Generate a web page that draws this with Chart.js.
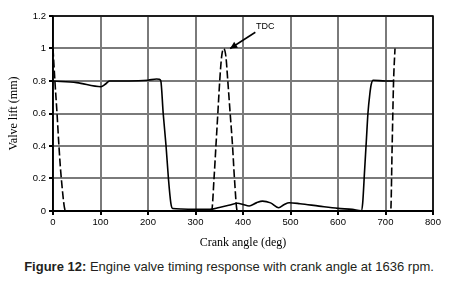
<!DOCTYPE html>
<html>
<head>
<meta charset="utf-8">
<script src="https://cdn.jsdelivr.net/npm/chart.js@4/dist/chart.umd.min.js"></script>
<style>
  html, body { margin: 0; padding: 0; background: #fff; }
  #wrap { position: relative; width: 458px; height: 283px; overflow: hidden; }
  #box { position: absolute; left: 0; top: 0; width: 458px; height: 256px; }
  #caption {
    position: absolute; left: 0; top: 259px; width: 458px; text-align: center;
    font-family: "Liberation Sans", Arial, sans-serif; font-size: 13px; color: #231f20;
    white-space: nowrap;
  }
</style>
</head>
<body>
<div id="wrap">
  <div id="box"><canvas id="chart"></canvas></div>
  <div id="caption"><b>Figure 12:</b> Engine valve timing response with crank angle at 1636 rpm.</div>
</div>
<script>
// valve lift vs crank angle
const solidAngle = [0, 50, 101, 110, 119, 160, 200, 218, 224, 227, 232, 238, 243, 248, 252, 270, 300, 330, 350, 370, 389, 400, 413, 428, 441, 458, 475, 487, 497, 520, 560, 600, 630, 649, 652, 656, 660, 663, 667, 670, 674, 700, 717];
const solidLift = [0.8, 0.79, 0.765, 0.78, 0.8, 0.8, 0.805, 0.812, 0.81, 0.8, 0.6, 0.4, 0.2, 0.05, 0.015, 0.012, 0.01, 0.01, 0.022, 0.035, 0.048, 0.04, 0.031, 0.05, 0.061, 0.05, 0.02, 0.04, 0.051, 0.045, 0.03, 0.016, 0.01, 0.002, 0.05, 0.25, 0.45, 0.6, 0.72, 0.78, 0.805, 0.8, 0.8];

const dashAngle = [0, 4, 8.5, 12.5, 17.5, 26.5, 334, 339, 343, 347, 351, 355, 359.5, 364, 368, 373, 378, 382, 388, 711, 714, 717, 720];
const dashLift = [1.0, 0.8, 0.6, 0.4, 0.2, 0, 0, 0.2, 0.4, 0.6, 0.8, 0.95, 1.0, 0.95, 0.8, 0.6, 0.4, 0.2, 0, 0, 0.4, 0.8, 1.0];

const xTicks = [0, 100, 200, 300, 400, 500, 600, 700, 800];
const yTicks = ['0', '0.2', '0.4', '0.6', '0.8', '1', '1.2'];

// TDC note, in data units
const tdcText = 'TDC';
const tdcTextAt = { x: 447, y: 1.135 };
const tdcArrowFrom = { x: 426, y: 1.1 };
const tdcArrowTo = { x: 373, y: 1.0 };

const pts = (xs, ys) => xs.map((x, i) => ({ x, y: ys[i] }));

// black frame around the plot + TDC arrow
const framePlugin = {
  id: 'frame',
  beforeDatasetsDraw(chart) {
    const { ctx, chartArea: a } = chart;
    ctx.save();
    ctx.strokeStyle = '#000';
    ctx.lineWidth = 1.5;
    ctx.strokeRect(a.left, a.top, a.right - a.left, a.bottom - a.top);
    ctx.restore();
  },
  afterDatasetsDraw(chart) {
    const { ctx, scales: { x, y } } = chart;
    ctx.save();
    const x0 = x.getPixelForValue(tdcArrowFrom.x), y0 = y.getPixelForValue(tdcArrowFrom.y);
    const x1 = x.getPixelForValue(tdcArrowTo.x), y1 = y.getPixelForValue(tdcArrowTo.y);
    ctx.strokeStyle = '#000';
    ctx.fillStyle = '#000';
    ctx.lineWidth = 1.5;
    ctx.beginPath();
    ctx.moveTo(x0, y0);
    ctx.lineTo(x1, y1);
    ctx.stroke();
    const ang = Math.atan2(y1 - y0, x1 - x0);
    const L = 7, W = 3.5;
    ctx.beginPath();
    ctx.moveTo(x1, y1);
    ctx.lineTo(x1 - L * Math.cos(ang) + W * Math.sin(ang), y1 - L * Math.sin(ang) - W * Math.cos(ang));
    ctx.lineTo(x1 - L * Math.cos(ang) - W * Math.sin(ang), y1 - L * Math.sin(ang) + W * Math.cos(ang));
    ctx.closePath();
    ctx.fill();
    ctx.font = '9px "Liberation Sans", Arial, sans-serif';
    ctx.textAlign = 'center';
    ctx.textBaseline = 'middle';
    ctx.fillText(tdcText, x.getPixelForValue(tdcTextAt.x), y.getPixelForValue(tdcTextAt.y));
    ctx.restore();
  }
};

const tickFont = { family: '"Liberation Sans", Arial, sans-serif', size: 9.5 };
const titleFont = { family: '"Liberation Serif", "Times New Roman", serif', size: 12 };

new Chart(document.getElementById('chart'), {
  type: 'line',
  data: {
    datasets: [
      {
        data: pts(solidAngle, solidLift),
        borderColor: '#000', borderWidth: 1.6,
        pointRadius: 0, cubicInterpolationMode: 'monotone', fill: false
      },
      {
        data: pts(dashAngle, dashLift),
        borderColor: '#000', borderWidth: 1.6, borderDash: [8, 3],
        pointRadius: 0, cubicInterpolationMode: 'monotone', fill: false
      }
    ]
  },
  options: {
    responsive: true, maintainAspectRatio: false, animation: false,
    layout: { padding: { top: 16, right: 25, left: 0, bottom: 0 } },
    plugins: { legend: { display: false }, tooltip: { enabled: false } },
    scales: {
      x: {
        type: 'linear', min: 0, max: 800,
        afterBuildTicks: s => { s.ticks = xTicks.map(v => ({ value: v })); },
        afterFit: s => { s.height = 45; },
        grid: { color: '#7a7a7a', lineWidth: 2, tickLength: 4, tickColor: '#000' },
        border: { color: '#000', width: 2 },
        ticks: { color: '#000', font: tickFont, padding: 2, maxRotation: 0 },
        title: { display: true, text: 'Crank angle (deg)', color: '#000', font: titleFont, padding: { top: 0, bottom: 6 } }
      },
      y: {
        min: 0, max: 1.2,
        afterBuildTicks: s => { s.ticks = yTicks.map(v => ({ value: +v })); },
        afterFit: s => { s.width = 53; },
        grid: { color: '#7a7a7a', lineWidth: 2, tickLength: 4, tickColor: '#000' },
        border: { color: '#000', width: 1.5 },
        ticks: { color: '#000', font: tickFont, padding: 3, callback: (v, i) => yTicks[i] },
        title: { display: true, text: 'Valve lift (mm)', color: '#000', font: titleFont, padding: { top: 7, bottom: 0 } }
      }
    }
  },
  plugins: [framePlugin]
});
</script>
</body>
</html>
